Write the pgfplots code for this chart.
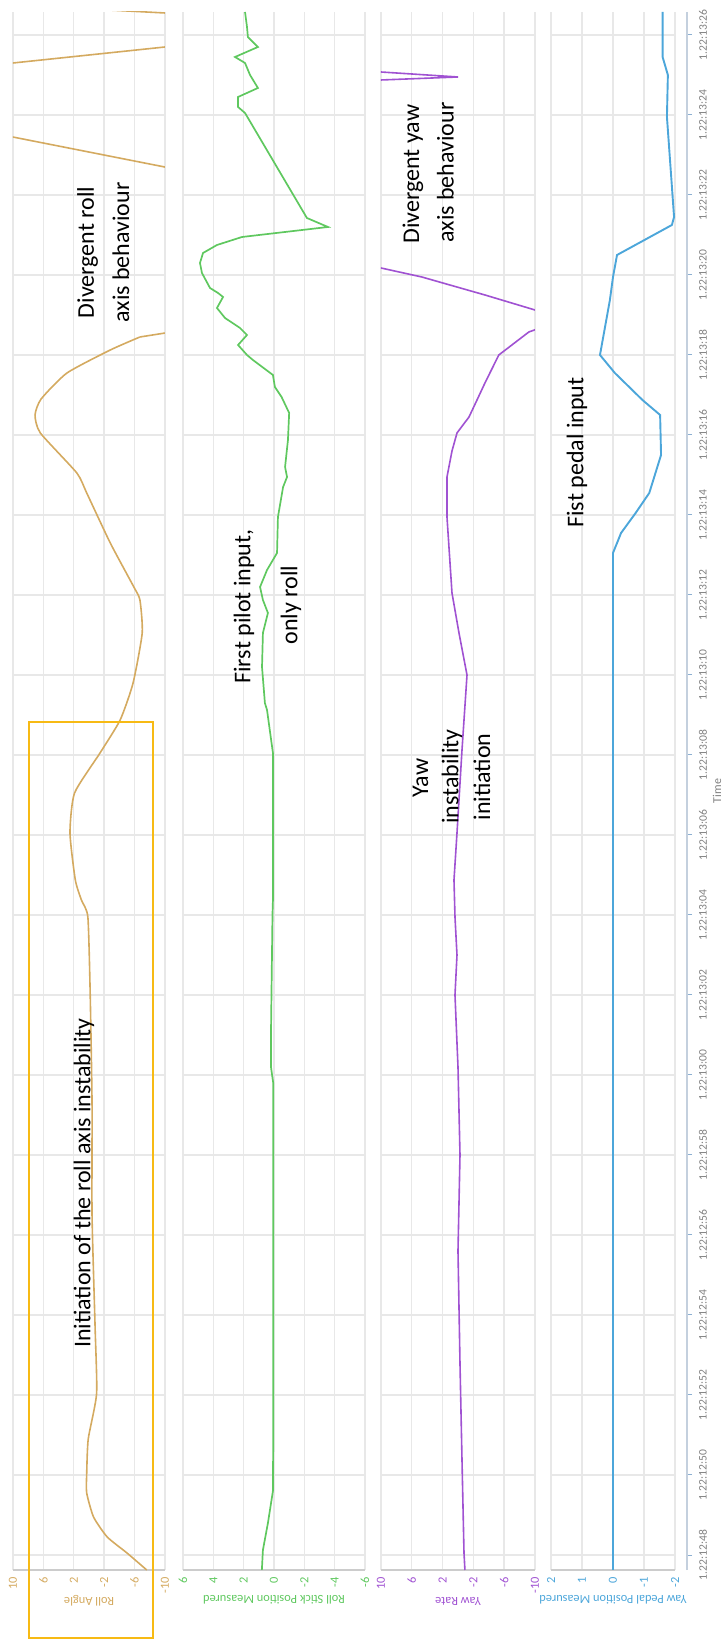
\documentclass[border=0pt]{standalone}
\usepackage{pgfplots}
\pgfplotsset{compat=1.18}
\usepackage{pgfplotstable}
\usepackage{fontspec}
\setmainfont{Carlito}
\definecolor{rollc}{RGB}{212,170,96}
\definecolor{stickc}{RGB}{95,200,95}
\definecolor{yawc}{RGB}{160,82,210}
\definecolor{pedalc}{RGB}{76,166,218}
\definecolor{gridc}{RGB}{232,232,232}
\definecolor{boxc}{RGB}{247,186,20}
\definecolor{tlabc}{RGB}{128,128,128}
\definecolor{taxc}{RGB}{196,208,222}
\definecolor{tickc}{RGB}{140,175,210}

% time t in s after 1.22:12:48, value v
\pgfplotstableread{
t v
-0.375 -7.6
0.05 -5.0
0.45 -2.4
0.95 -0.6
1.55 0.3
2.05 0.3
2.9 0.1
4.04 -1.0
5.71 -0.8
8.5 -0.4
11.3 -0.4
14.1 -0.15
15.95 0.15
16.375 1.0
16.875 1.8
18.05 2.5
19.05 1.9
20.05 -1.45
20.875 -4.1
21.8 -5.8
23.05 -7.0
23.875 -6.7
24.2 -5.9
25.3 -2.8
26.55 0.3
27.05 1.6
28.05 6.4
28.5 7.1
28.9 6.3
29.55 2.9
30.125 -2.8
30.45 -6.7
}\rollA
\pgfplotstableread{
t v
30.45 -6.7
31.0 -25
32.5 -40
34.2 -23.3
36.0 24.7
36.5 30
37.0 25
38.0 -25
38.3 -35
38.7 5
}\rollB
\pgfplotstableread{
t v
-0.375 0.8
0.125 0.73
0.8 0.4
1.6 0.07
3 0.05
6 0.05
9 0.05
11.8 0.05
12.2 0.2
13 0.2
16 0.1
16.375 0.07
20.05 0.07
21.125 0.46
21.3 0.6
22.2 0.79
23.05 0.73
23.55 0.4
23.875 0.73
24.2 0.92
24.625 0.46
25.05 -0.2
25.95 -0.26
26.7 -0.6
26.95 -0.86
27.2 -0.73
27.875 -0.92
28.55 -1.0
28.95 -0.5
29.2 -0.06
29.5 0.07
29.875 1.39
30.0 1.78
30.25 2.37
30.5 1.78
30.675 2.24
30.925 3.23
31.175 3.76
31.45 3.36
31.55 3.69
31.675 4.22
32.05 4.75
32.3 4.88
32.55 4.68
32.75 3.76
32.95 2.11
33.2 -3.56
33.425 -2.17
36.05 1.91
36.2 2.37
36.45 2.37
36.675 1.06
37.0 1.58
37.3 1.91
37.45 2.57
37.7 1.06
37.95 1.72
38.2 1.78
38.575 1.91
}\stick
\pgfplotstableread{
t v
-0.375 -0.9
0.05 -0.78
2.375 -0.52
4.78 -0.26
7.6 0
10.0 -0.26
12.2 0
14.0 0.39
15.0 0.13
15.95 0.39
16.875 0.52
18.05 0.13
20.125 -0.52
22.0 -1.17
23.05 -0.13
24.05 0.78
25.95 1.43
26.95 1.43
27.6 0.78
28.05 0.13
28.45 -1.43
28.875 -2.47
29.3 -3.5
30.0 -5.3
30.575 -9.2
30.9 -13.9
31.125 -10
31.5 -3.5
31.95 4.7
32.4 15.3
34.0 30
36.8 20
36.95 0
37.1 12
37.5 30
38.575 30
}\yaw
\pgfplotstableread{
t v
-0.375 0
13 0
25.05 0
25.55 -0.26
26.05 -0.73
26.55 -1.17
27.5 -1.55
28.5 -1.52
28.875 -0.95
29.55 -0.06
30.0 0.42
31.375 0.1
31.95 0.0
32.5 -0.13
33.25 -1.9
33.45 -1.97
35.95 -1.74
37.0 -1.77
37.45 -1.6
38.575 -1.6
}\pedal

\pgfplotsset{
  panel/.style={
    anchor=south west, scale only axis, height=779pt,
    ymin=-0.375, ymax=38.575, ytick={0,2,...,38}, yticklabels={},
    x dir=reverse,
    axis x line*=bottom, axis y line*=left,
    y axis line style={draw=none},
    x axis line style={draw=black!20, line width=0.6pt},
    grid=major, major grid style={draw=gridc, line width=0.7pt},
    major tick length=0pt, tick style={draw=none},
    xticklabel style={rotate=90, anchor=east, font=\fontsize{6.2}{7}\selectfont},
    /pgf/number format/assume math mode=true,
  },
}
\tikzset{annot/.style={rotate=90, inner sep=0pt, font=\fontsize{12}{14}\selectfont, text=black},
  alab/.style={rotate=180, inner sep=0pt, font=\fontsize{6.2}{7}\selectfont}}

\begin{document}
\begin{tikzpicture}
\useasboundingbox (0,0) rectangle (362pt,820pt);

% Roll Angle
\begin{axis}[panel, at={(6.5pt,35pt)}, width=76pt,
  xmin=-10, xmax=10, xtick={-10,-6,...,10},
  xticklabel style={text=rollc}]
\addplot[rollc, line width=0.8pt, no marks, smooth, tension=0.35] table[x=v,y=t] {\rollA};
\addplot[rollc, line width=0.8pt, no marks] table[x=v,y=t] {\rollB};
\end{axis}

% Roll Stick Position Measured
\begin{axis}[panel, at={(91.5pt,35pt)}, width=91pt,
  xmin=-6, xmax=6, xtick={-6,-4,...,6},
  xticklabel style={text=stickc}]
\addplot[stickc, line width=0.85pt, no marks] table[x=v,y=t] {\stick};
\end{axis}

% Yaw Rate
\begin{axis}[panel, at={(190.5pt,35pt)}, width=77pt,
  xmin=-10, xmax=10, xtick={-10,-6,...,10},
  xticklabel style={text=yawc}]
\addplot[yawc, line width=0.8pt, no marks] table[x=v,y=t] {\yaw};
\end{axis}

% Yaw Pedal Position Measured
\begin{axis}[panel, at={(275.5pt,35pt)}, width=62pt,
  xmin=-2, xmax=2, xtick={-2,-1,...,2},
  xticklabel style={text=pedalc}]
\addplot[pedalc, line width=0.95pt, no marks] table[x=v,y=t] {\pedal};
\end{axis}

% Time axis
\begin{axis}[anchor=south west, at={(337.5pt,35pt)}, scale only axis, width=6pt, height=779pt,
  xmin=0, xmax=1, ymin=-0.375, ymax=38.575, hide x axis,
  axis y line*=right, y axis line style={draw=taxc, line width=0.6pt},
  ytick={0,2,...,38},
  yticklabels={1.22:12:48,1.22:12:50,1.22:12:52,1.22:12:54,1.22:12:56,1.22:12:58,1.22:13:00,1.22:13:02,1.22:13:04,1.22:13:06,1.22:13:08,1.22:13:10,1.22:13:12,1.22:13:14,1.22:13:16,1.22:13:18,1.22:13:20,1.22:13:22,1.22:13:24,1.22:13:26},
  tick align=outside, major tick length=2.5pt, tick style={draw=tickc, line width=0.5pt},
  yticklabel style={rotate=90, anchor=north, font=\fontsize{5.8}{7}\selectfont, text=tlabc},
  ylabel={Time},
  every axis y label/.style={at={(axis description cs:1,0.5)}, anchor=center, xshift=15pt,
    rotate=90, font=\fontsize{6}{7}\selectfont, text=tlabc},
  /pgf/number format/assume math mode=true]
\end{axis}

% axis titles (upside down, as in the rotated original)
\node[alab, text=rollc] at (44.5pt,19.5pt) {Roll Angle};
\node[alab, text=stickc] at (137pt,20pt) {Roll Stick Position Measured};
\node[alab, text=yawc] at (229pt,19.5pt) {Yaw Rate};
\node[alab, text=pedalc] at (306.5pt,20pt) {Yaw Pedal Position Measured};

% annotations
\draw[boxc, line width=1pt] (14.5pt,0.75pt) rectangle (76.5pt,459pt);
\node[annot] at (42pt,228.5pt) {Initiation of the roll axis instability};
\node[annot] at (43.75pt,693.75pt) {Divergent roll};
\node[annot] at (60.5pt,693.75pt) {axis behaviour};
\node[annot] at (122pt,516.75pt) {First pilot input,};
\node[annot] at (145.5pt,517.5pt) {only roll};
\node[annot] at (210.25pt,431pt) {Yaw};
\node[annot] at (226pt,431.75pt) {instability};
\node[annot] at (241pt,431.5pt) {initiation};
\node[annot] at (206.5pt,733pt) {Divergent yaw};
\node[annot] at (222.75pt,733.75pt) {axis behaviour};
\node[annot] at (288.5pt,593.75pt) {Fist pedal input};
\end{tikzpicture}
\end{document}
